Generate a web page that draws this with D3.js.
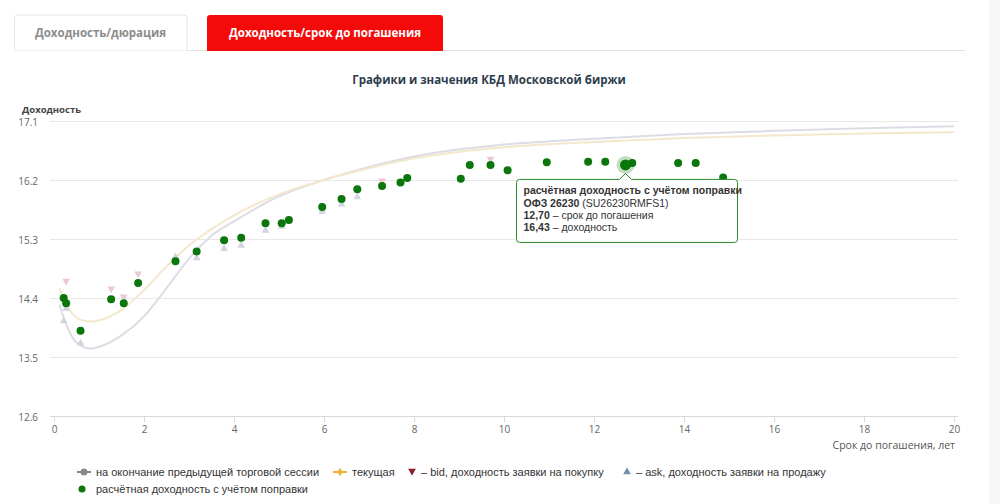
<!DOCTYPE html>
<html>
<head>
<meta charset="utf-8">
<script src="https://cdn.jsdelivr.net/npm/d3@7"></script>
<style>
body { margin: 0; background: #fff; }
svg { display: block; font-family: "Open Sans", "DejaVu Sans", sans-serif; }
</style>
</head>
<body>
<div id="chart"></div>
<script>
// кривая на окончание предыдущей торговой сессии
var prevT = [0.12, 0.3, 0.5, 0.8, 1.1, 1.5, 2.0, 2.5, 3.0, 3.5, 4.0, 5.0, 6.0, 7.0, 8.0, 10, 12, 14, 16, 18, 20];
var prevY = [14.30, 13.95, 13.72, 13.63, 13.68, 13.83, 14.12, 14.55, 15.00, 15.35, 15.57, 15.95, 16.20, 16.40, 16.56, 16.74, 16.83, 16.90, 16.95, 16.99, 17.02];
// текущая кривая
var curT = [0.12, 0.3, 0.5, 0.8, 1.1, 1.5, 2.0, 2.5, 3.0, 3.5, 4.0, 5.0, 6.0, 7.0, 8.0, 10, 12, 14, 16, 18, 20];
var curY = [14.55, 14.27, 14.10, 14.04, 14.08, 14.22, 14.52, 14.88, 15.20, 15.45, 15.66, 15.98, 16.20, 16.38, 16.53, 16.70, 16.78, 16.84, 16.88, 16.91, 16.93];
// bid
var bidT = [0.27, 1.27, 1.55, 1.87, 7.29, 9.70];
var bidY = [14.66, 14.54, 14.42, 14.77, 16.19, 16.52];
// ask
var askT = [0.215, 0.27, 0.59, 2.70, 3.17, 3.78, 4.16, 4.70, 5.06, 5.96, 6.39, 6.74];
var askY = [14.05, 14.24, 13.71, 15.03, 15.01, 15.15, 15.20, 15.43, 15.49, 15.72, 15.83, 15.94];
// расчётная доходность с учётом поправки
var bondT = [0.215, 0.27, 0.59, 1.27, 1.55, 1.87, 2.70, 3.17, 3.78, 4.16, 4.70, 5.06, 5.22, 5.96, 6.39, 6.74, 7.29, 7.70, 7.85, 9.04, 9.24, 9.70, 10.08, 10.95, 11.87, 12.25, 12.70, 12.85, 13.87, 14.26, 14.87];
var bondY = [14.40, 14.32, 13.90, 14.38, 14.32, 14.63, 14.96, 15.11, 15.28, 15.32, 15.54, 15.54, 15.59, 15.79, 15.91, 16.06, 16.11, 16.16, 16.23, 16.22, 16.43, 16.43, 16.35, 16.47, 16.48, 16.48, 16.43, 16.46, 16.46, 16.46, 16.24];
var yTicks = [12.6, 13.5, 14.4, 15.3, 16.2, 17.1];
var xTicks = [0, 2, 4, 6, 8, 10, 12, 14, 16, 18, 20];
var hoverIdx = 26;

var W = 1000, H = 504;
var svg = d3.select("#chart").append("svg").attr("width", W).attr("height", H);

// серая полоса справа
svg.append("rect").attr("x", 989).attr("y", 0).attr("width", 11).attr("height", H).attr("fill", "#f6f6f6");

// вкладки
svg.append("line").attr("x1", 14).attr("x2", 965).attr("y1", 50.5).attr("y2", 50.5).attr("stroke", "#e3e3e3");
svg.append("path").attr("d", "M14.5,50.5 V18 q0,-3 3,-3 H184 q3,0 3,3 V50.5")
    .attr("fill", "#fff").attr("stroke", "#e3e3e3");
svg.append("text").attr("x", 100.5).attr("y", 37).attr("text-anchor", "middle")
    .attr("font-size", 11.5).attr("font-weight", "bold").attr("fill", "#8c8c8c").text("Доходность/дюрация");
svg.append("path").attr("d", "M207,51 V18 q0,-3 3,-3 H440 q3,0 3,3 V51").attr("fill", "#f50a0a");
svg.append("text").attr("x", 325).attr("y", 37).attr("text-anchor", "middle")
    .attr("font-size", 11.5).attr("font-weight", "bold").attr("fill", "#fff").text("Доходность/срок до погашения");

svg.append("text").attr("x", 489).attr("y", 84).attr("text-anchor", "middle")
    .attr("font-size", 11.5).attr("font-weight", "bold").attr("fill", "#2e3d4d")
    .text("Графики и значения КБД Московской биржи");

var x = d3.scaleLinear().domain([0, 20]).range([54, 954]);
var y = d3.scaleLinear().domain([12.6, 17.1]).range([416, 121]);

// сетка и ось Y
var gy = svg.append("g").attr("transform", "translate(50,0)")
    .call(d3.axisLeft(y).tickValues(yTicks).tickSize(-908).tickFormat(d3.format(".1f")));
gy.select(".domain").remove();
gy.selectAll(".tick line").attr("stroke", "#e8e8e8");
gy.selectAll(".tick text").attr("x", -12).attr("dy", "0.4em").attr("font-size", 10)
    .attr("fill", "#666").attr("font-family", "Open Sans, sans-serif");
gy.selectAll(".tick").filter(function(d) { return d === 12.6; }).select("line").remove();

svg.append("text").attr("x", 22).attr("y", 113).attr("font-size", 9.5).attr("font-weight", "bold")
    .attr("fill", "#444").text("Доходность");

// ось X
var gx = svg.append("g").attr("transform", "translate(0,416)")
    .call(d3.axisBottom(x).tickValues(xTicks).tickSize(6).tickPadding(4).tickFormat(d3.format("d")));
gx.select(".domain").attr("d", "M50,0.5H958").attr("stroke", "#d8d8d8");
gx.selectAll(".tick line").attr("stroke", "#d8d8d8");
gx.selectAll(".tick text").attr("font-size", 10).attr("fill", "#666").attr("font-family", "Open Sans, sans-serif");
svg.append("text").attr("x", 955).attr("y", 449).attr("text-anchor", "end").attr("font-size", 10.5)
    .attr("fill", "#555").text("Срок до погашения, лет");

// кривые
var line = d3.line().x(function(d) { return x(d[0]); }).y(function(d) { return y(d[1]); }).curve(d3.curveMonotoneX);
svg.append("path").datum(d3.zip(prevT, prevY)).attr("d", line)
    .attr("fill", "none").attr("stroke", "#dcdce6").attr("stroke-width", 2);
svg.append("path").datum(d3.zip(curT, curY)).attr("d", line)
    .attr("fill", "none").attr("stroke", "#f4e8cc").attr("stroke-width", 2);

// bid / ask
var tri = d3.symbol().type(d3.symbolTriangle).size(26);
svg.append("g").selectAll("path").data(d3.zip(bidT, bidY)).join("path")
    .attr("d", tri).attr("fill", "#ecc8d2")
    .attr("transform", function(d) { return "translate(" + x(d[0]) + "," + y(d[1]) + ") rotate(180)"; });
svg.append("g").selectAll("path").data(d3.zip(askT, askY)).join("path")
    .attr("d", tri).attr("fill", "#d2d5e0")
    .attr("transform", function(d) { return "translate(" + x(d[0]) + "," + y(d[1]) + ")"; });

// точки
var bonds = d3.zip(bondT, bondY);
svg.append("g").selectAll("circle").data(bonds).join("circle")
    .attr("cx", function(d) { return x(d[0]); }).attr("cy", function(d) { return y(d[1]); })
    .attr("r", 4).attr("fill", "#0b760b");
var hp = bonds[hoverIdx];
svg.append("circle").attr("cx", x(hp[0])).attr("cy", y(hp[1])).attr("r", 9).attr("fill", "#0b760b").attr("opacity", 0.25);
svg.append("circle").attr("cx", x(hp[0])).attr("cy", y(hp[1])).attr("r", 5.5).attr("fill", "#0b760b");

// подсказка
var tx = x(hp[0]) - 109, ty = y(hp[1]) + 14.5, tw = 221, th = 63;
var tip = svg.append("g").attr("transform", "translate(" + tx + "," + ty + ")");
tip.append("path")
    .attr("d", "M3,0 H" + (109 - 6) + " L109,-6 L" + (109 + 6) + ",0 H" + (tw - 3) + " q3,0 3,3 V" + (th - 3) +
        " q0,3 -3,3 H3 q-3,0 -3,-3 V3 q0,-3 3,-3 Z")
    .attr("fill", "#fff").attr("stroke", "#2b8a2b").attr("stroke-width", 1);
var tl = tip.append("text").attr("font-size", 10.5).attr("fill", "#333")
    .attr("font-family", "Liberation Sans, Arial, sans-serif");
tl.append("tspan").attr("x", 7).attr("y", 15).attr("font-weight", "bold").text("расчётная доходность с учётом поправки");
var l2 = tl.append("tspan").attr("x", 7).attr("y", 28);
l2.append("tspan").attr("font-weight", "bold").text("ОФЗ 26230");
l2.append("tspan").text(" (SU26230RMFS1)");
var l3 = tl.append("tspan").attr("x", 7).attr("y", 40);
l3.append("tspan").attr("font-weight", "bold").text("12,70");
l3.append("tspan").text(" – срок до погашения");
var l4 = tl.append("tspan").attr("x", 7).attr("y", 52);
l4.append("tspan").attr("font-weight", "bold").text("16,43");
l4.append("tspan").text(" – доходность");

// легенда
var leg = svg.append("g").attr("font-size", 11).attr("fill", "#333").attr("font-family", "Liberation Sans Narrow, Liberation Sans, sans-serif");
leg.append("line").attr("x1", 77).attr("x2", 91).attr("y1", 472).attr("y2", 472).attr("stroke", "#888").attr("stroke-width", 2);
leg.append("circle").attr("cx", 84).attr("cy", 472).attr("r", 3.5).attr("fill", "#888");
leg.append("text").attr("x", 96).attr("y", 476).text("на окончание предыдущей торговой сессии");
leg.append("line").attr("x1", 333).attr("x2", 347).attr("y1", 472).attr("y2", 472).attr("stroke", "#f0b030").attr("stroke-width", 2);
leg.append("path").attr("d", d3.symbol().type(d3.symbolDiamond).size(22)).attr("fill", "#f0b030").attr("transform", "translate(340,472)");
leg.append("text").attr("x", 352).attr("y", 476).text("текущая");
leg.append("path").attr("d", tri).attr("fill", "#8a1c2c").attr("transform", "translate(412,471) rotate(180)");
leg.append("text").attr("x", 421).attr("y", 476).text("– bid, доходность заявки на покупку");
leg.append("path").attr("d", tri).attr("fill", "#6f8fad").attr("transform", "translate(627,472)");
leg.append("text").attr("x", 636).attr("y", 476).text("– ask, доходность заявки на продажу");
leg.append("circle").attr("cx", 82).attr("cy", 489).attr("r", 3.5).attr("fill", "#0b760b");
leg.append("text").attr("x", 96).attr("y", 493).text("расчётная доходность с учётом поправки");
</script>
</body>
</html>
